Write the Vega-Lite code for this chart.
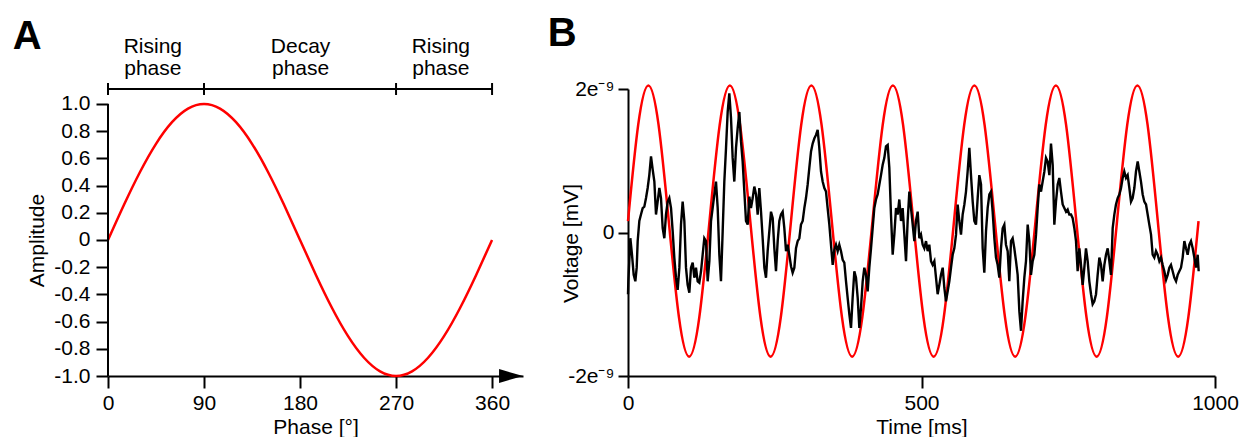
{
"$schema": "https://vega.github.io/schema/vega-lite/v6.json",
"padding": {"left": 12, "top": 13, "right": 5, "bottom": 0},
"background": "white",
"bounds": "flush",
"spacing": 105,
"config": {
  "view": {"stroke": null},
  "font": "Liberation Sans",
  "axis": {"domainColor": "black", "domainWidth": 2, "tickColor": "black", "tickWidth": 2, "tickSize": 12, "labelColor": "black", "titleColor": "black", "labelFontSize": 21, "titleFontSize": 21, "titleFontWeight": "normal", "grid": false, "labelPadding": 4, "titlePadding": 3, "labelFlush": false, "labelOverlap": false}
},
"datasets": {
  "phaseSine": [{"phase":0,"amp":0},{"phase":15,"amp":0.2588},{"phase":30,"amp":0.5},{"phase":45,"amp":0.7071},{"phase":60,"amp":0.866},{"phase":75,"amp":0.9659},{"phase":90,"amp":1},{"phase":105,"amp":0.9659},{"phase":120,"amp":0.866},{"phase":135,"amp":0.7071},{"phase":150,"amp":0.5},{"phase":165,"amp":0.2588},{"phase":180,"amp":0},{"phase":195,"amp":-0.2588},{"phase":210,"amp":-0.5},{"phase":225,"amp":-0.7071},{"phase":240,"amp":-0.866},{"phase":255,"amp":-0.9659},{"phase":270,"amp":-1},{"phase":285,"amp":-0.9659},{"phase":300,"amp":-0.866},{"phase":315,"amp":-0.7071},{"phase":330,"amp":-0.5},{"phase":345,"amp":-0.2588},{"phase":360,"amp":0}],
  "stimulus": [{"t":0,"v":0.16e-9},{"t":17.36,"v":1.5e-9},{"t":34.71,"v":2.05e-9},{"t":52.07,"v":1.5e-9},{"t":69.43,"v":0.16e-9},{"t":86.78,"v":-1.18e-9},{"t":104.14,"v":-1.73e-9},{"t":121.5,"v":-1.18e-9},{"t":138.85,"v":0.16e-9},{"t":156.2,"v":1.5e-9},{"t":173.56,"v":2.05e-9},{"t":190.92,"v":1.5e-9},{"t":208.27,"v":0.16e-9},{"t":225.63,"v":-1.18e-9},{"t":242.99,"v":-1.73e-9},{"t":260.34,"v":-1.18e-9},{"t":277.7,"v":0.16e-9},{"t":295.06,"v":1.5e-9},{"t":312.41,"v":2.05e-9},{"t":329.77,"v":1.5e-9},{"t":347.13,"v":0.16e-9},{"t":364.48,"v":-1.18e-9},{"t":381.84,"v":-1.73e-9},{"t":399.2,"v":-1.18e-9},{"t":416.55,"v":0.16e-9},{"t":433.91,"v":1.5e-9},{"t":451.26,"v":2.05e-9},{"t":468.62,"v":1.5e-9},{"t":485.98,"v":0.16e-9},{"t":503.33,"v":-1.18e-9},{"t":520.69,"v":-1.73e-9},{"t":538.05,"v":-1.18e-9},{"t":555.4,"v":0.16e-9},{"t":572.76,"v":1.5e-9},{"t":590.12,"v":2.05e-9},{"t":607.47,"v":1.5e-9},{"t":624.83,"v":0.16e-9},{"t":642.19,"v":-1.18e-9},{"t":659.54,"v":-1.73e-9},{"t":676.9,"v":-1.18e-9},{"t":694.26,"v":0.16e-9},{"t":711.61,"v":1.5e-9},{"t":728.97,"v":2.05e-9},{"t":746.33,"v":1.5e-9},{"t":763.68,"v":0.16e-9},{"t":781.04,"v":-1.18e-9},{"t":798.39,"v":-1.73e-9},{"t":815.75,"v":-1.18e-9},{"t":833.11,"v":0.16e-9},{"t":850.46,"v":1.5e-9},{"t":867.82,"v":2.05e-9},{"t":885.18,"v":1.5e-9},{"t":902.53,"v":0.16e-9},{"t":919.89,"v":-1.18e-9},{"t":937.25,"v":-1.73e-9},{"t":954.6,"v":-1.18e-9},{"t":971.96,"v":0.16e-9}],
  "recording": [
{"t":0,"v":-0.86e-9},{"t":0.6,"v":-0.68e-9},{"t":4.0,"v":-0.08e-9},{"t":6.8,"v":-0.31e-9},{"t":9.7,"v":-0.59e-9},{"t":12.5,"v":-0.68e-9},{"t":14.8,"v":-0.49e-9},{"t":16.5,"v":-0.12e-9},{"t":19.3,"v":0.16e-9},{"t":22.1,"v":0.25e-9},{"t":25.0,"v":0.34e-9},{"t":27.8,"v":0.36e-9},{"t":30.7,"v":0.48e-9},{"t":33.5,"v":0.62e-9},{"t":36.3,"v":0.80e-9},{"t":39.2,"v":1.06e-9},{"t":42.0,"v":0.88e-9},{"t":44.9,"v":0.71e-9},{"t":47.7,"v":0.25e-9},{"t":50.5,"v":0.43e-9},{"t":53.4,"v":0.62e-9},{"t":56.2,"v":0.48e-9},{"t":59.1,"v":0.06e-9},{"t":61.9,"v":-0.08e-9},{"t":64.7,"v":0.25e-9},{"t":67.6,"v":0.43e-9},{"t":70.4,"v":0.48e-9},{"t":73.3,"v":0.34e-9},{"t":76.1,"v":0.02e-9},{"t":78.9,"v":-0.35e-9},{"t":81.8,"v":-0.63e-9},{"t":84.6,"v":-0.80e-9},{"t":87.5,"v":-0.49e-9},{"t":90.3,"v":0.11e-9},{"t":93.1,"v":0.43e-9},{"t":96.0,"v":0.16e-9},{"t":98.8,"v":-0.49e-9},{"t":101.6,"v":-0.73e-9},{"t":104.5,"v":-0.84e-9},{"t":107.3,"v":-0.49e-9},{"t":110.2,"v":-0.42e-9},{"t":113.0,"v":-0.63e-9},{"t":115.8,"v":-0.49e-9},{"t":118.7,"v":-0.68e-9},{"t":121.5,"v":-0.70e-9},{"t":124.4,"v":-0.54e-9},{"t":127.2,"v":-0.31e-9},{"t":130.0,"v":-0.08e-9},{"t":132.9,"v":-0.12e-9},{"t":135.7,"v":-0.68e-9},{"t":138.6,"v":-0.40e-9},{"t":141.4,"v":0.16e-9},{"t":144.2,"v":0.34e-9},{"t":147.1,"v":0.53e-9},{"t":149.9,"v":0.71e-9},{"t":152.8,"v":0.34e-9},{"t":155.6,"v":-0.31e-9},{"t":158.4,"v":-0.68e-9},{"t":161.3,"v":0.02e-9},{"t":164.1,"v":0.71e-9},{"t":167.0,"v":1.18e-9},{"t":169.8,"v":1.68e-9},{"t":172.6,"v":1.94e-9},{"t":175.5,"v":1.59e-9},{"t":178.3,"v":1.04e-9},{"t":181.1,"v":0.71e-9},{"t":184.0,"v":1.18e-9},{"t":186.8,"v":1.45e-9},{"t":189.7,"v":1.68e-9},{"t":192.5,"v":1.27e-9},{"t":195.3,"v":0.99e-9},{"t":198.2,"v":0.57e-9},{"t":201.0,"v":0.16e-9},{"t":203.9,"v":0.11e-9},{"t":206.7,"v":0.50e-9},{"t":209.5,"v":0.34e-9},{"t":212.4,"v":0.48e-9},{"t":215.2,"v":0.64e-9},{"t":218.1,"v":0.53e-9},{"t":220.9,"v":0.25e-9},{"t":223.7,"v":0.62e-9},{"t":226.6,"v":0.29e-9},{"t":229.4,"v":-0.08e-9},{"t":232.3,"v":-0.49e-9},{"t":235.1,"v":-0.63e-9},{"t":237.9,"v":-0.26e-9},
{"t":243.6,"v":0.29e-9},{"t":246.5,"v":0.20e-9},{"t":249.3,"v":-0.22e-9},{"t":252.1,"v":-0.54e-9},{"t":255.0,"v":-0.12e-9},{"t":257.8,"v":0.16e-9},{"t":260.6,"v":0.25e-9},{"t":263.5,"v":0.29e-9},{"t":266.3,"v":0.06e-9},{"t":269.2,"v":-0.26e-9},{"t":272.0,"v":-0.17e-9},{"t":274.8,"v":-0.31e-9},{"t":277.7,"v":-0.47e-9},{"t":280.5,"v":-0.56e-9},{"t":283.4,"v":-0.49e-9},{"t":286.2,"v":-0.22e-9},{"t":289.0,"v":-0.12e-9},{"t":291.9,"v":-0.08e-9},{"t":294.7,"v":0.11e-9},{"t":297.6,"v":0.16e-9},{"t":300.4,"v":0.34e-9},{"t":303.2,"v":0.48e-9},{"t":306.1,"v":0.67e-9},{"t":308.9,"v":0.90e-9},{"t":311.8,"v":1.13e-9},{"t":314.6,"v":1.24e-9},{"t":317.4,"v":1.31e-9},{"t":320.3,"v":1.36e-9},{"t":323.1,"v":1.43e-9},{"t":325.9,"v":1.18e-9},{"t":328.8,"v":0.85e-9},{"t":331.6,"v":0.71e-9},{"t":334.5,"v":0.62e-9},{"t":337.3,"v":0.57e-9},{"t":340.1,"v":0.34e-9},{"t":343.0,"v":0.11e-9},{"t":345.8,"v":-0.17e-9},{"t":348.7,"v":-0.45e-9},{"t":351.5,"v":-0.24e-9},{"t":354.3,"v":-0.17e-9},{"t":357.2,"v":-0.26e-9},{"t":360.0,"v":-0.17e-9},{"t":362.9,"v":-0.26e-9},{"t":365.7,"v":-0.38e-9},{"t":368.5,"v":-0.42e-9},{"t":371.4,"v":-0.68e-9},{"t":374.2,"v":-0.91e-9},{"t":377.1,"v":-1.14e-9},{"t":379.9,"v":-1.33e-9},{"t":382.7,"v":-0.91e-9},{"t":385.6,"v":-0.54e-9},{"t":388.4,"v":-0.63e-9},{"t":391.3,"v":-0.91e-9},{"t":394.1,"v":-1.33e-9},{"t":396.9,"v":-1.05e-9},{"t":399.8,"v":-0.68e-9},{"t":402.6,"v":-0.49e-9},{"t":405.5,"v":-0.59e-9},{"t":408.3,"v":-0.82e-9},{"t":411.1,"v":-0.49e-9},{"t":414.0,"v":-0.22e-9},{"t":416.8,"v":0.06e-9},{"t":419.6,"v":0.34e-9},{"t":422.5,"v":0.46e-9},{"t":425.3,"v":0.53e-9},{"t":428.2,"v":0.67e-9},{"t":431.0,"v":0.80e-9},{"t":433.8,"v":0.94e-9},{"t":436.7,"v":1.04e-9},{"t":439.5,"v":1.20e-9},{"t":442.4,"v":1.22e-9},{"t":445.2,"v":0.90e-9},{"t":448.0,"v":0.25e-9},{"t":450.9,"v":-0.31e-9},{"t":453.7,"v":-0.03e-9},{"t":456.6,"v":0.34e-9},{"t":459.4,"v":0.25e-9},{"t":462.2,"v":0.46e-9},{"t":465.1,"v":0.16e-9},{"t":467.9,"v":0.34e-9},{"t":470.8,"v":-0.03e-9},{"t":473.6,"v":-0.40e-9},{"t":476.4,"v":0.16e-9},{"t":479.3,"v":0.57e-9},{"t":482.1,"v":0.34e-9},{"t":485.0,"v":0.11e-9},{"t":487.8,"v":-0.12e-9},{"t":490.6,"v":0.16e-9},{"t":493.5,"v":0.29e-9},{"t":496.3,"v":-0.08e-9},
{"t":499.1,"v":-0.03e-9},{"t":502.0,"v":-0.17e-9},{"t":504.8,"v":-0.22e-9},{"t":507.7,"v":-0.12e-9},{"t":510.5,"v":-0.26e-9},{"t":513.3,"v":-0.17e-9},{"t":516.2,"v":-0.40e-9},{"t":519.0,"v":-0.45e-9},{"t":521.9,"v":-0.40e-9},{"t":524.7,"v":-0.63e-9},{"t":527.5,"v":-0.86e-9},{"t":530.4,"v":-0.73e-9},{"t":533.2,"v":-0.59e-9},{"t":536.1,"v":-0.49e-9},{"t":538.9,"v":-0.77e-9},{"t":541.7,"v":-0.96e-9},{"t":544.6,"v":-0.82e-9},{"t":547.4,"v":-0.68e-9},{"t":550.3,"v":-0.49e-9},{"t":553.1,"v":-0.31e-9},{"t":555.9,"v":-0.22e-9},{"t":558.8,"v":-0.03e-9},{"t":561.6,"v":0.39e-9},{"t":564.4,"v":0.16e-9},{"t":567.3,"v":-0.03e-9},{"t":570.1,"v":0.25e-9},{"t":573.0,"v":0.39e-9},{"t":575.8,"v":0.57e-9},{"t":578.6,"v":0.85e-9},{"t":581.5,"v":1.18e-9},{"t":584.3,"v":0.80e-9},{"t":587.2,"v":0.43e-9},{"t":590.0,"v":0.16e-9},{"t":592.8,"v":0.11e-9},{"t":595.7,"v":0.48e-9},{"t":598.5,"v":0.80e-9},{"t":601.4,"v":0.67e-9},{"t":604.2,"v":-0.22e-9},{"t":607.0,"v":-0.56e-9},{"t":609.9,"v":0.02e-9},{"t":612.7,"v":0.34e-9},{"t":615.6,"v":0.53e-9},{"t":618.4,"v":0.57e-9},{"t":621.2,"v":0.29e-9},{"t":624.1,"v":-0.08e-9},{"t":626.9,"v":-0.35e-9},{"t":629.7,"v":-0.45e-9},{"t":632.6,"v":-0.63e-9},{"t":635.4,"v":-0.22e-9},{"t":638.3,"v":0.06e-9},{"t":641.1,"v":0.11e-9},{"t":643.9,"v":-0.17e-9},{"t":646.8,"v":-0.26e-9},{"t":649.6,"v":-0.68e-9},{"t":652.5,"v":-0.12e-9},{"t":655.3,"v":-0.08e-9},{"t":658.1,"v":-0.22e-9},{"t":661.0,"v":-0.40e-9},{"t":663.8,"v":-0.59e-9},{"t":666.7,"v":-1.10e-9},{"t":669.5,"v":-1.37e-9},{"t":672.3,"v":-0.96e-9},{"t":675.2,"v":-0.63e-9},{"t":678.0,"v":-0.40e-9},{"t":680.9,"v":0.11e-9},{"t":683.7,"v":-0.12e-9},{"t":686.5,"v":-0.59e-9},{"t":689.4,"v":-0.40e-9},{"t":692.2,"v":-0.31e-9},{"t":695.1,"v":-0.03e-9},{"t":697.9,"v":0.34e-9},{"t":700.7,"v":0.67e-9},{"t":703.6,"v":0.57e-9},{"t":706.4,"v":0.71e-9},{"t":709.3,"v":0.85e-9},{"t":712.1,"v":1.04e-9},{"t":714.9,"v":0.99e-9},{"t":717.8,"v":0.80e-9},{"t":720.6,"v":1.24e-9},{"t":723.5,"v":0.94e-9},{"t":726.3,"v":0.11e-9},{"t":729.1,"v":0.43e-9},{"t":732.0,"v":0.67e-9},{"t":734.8,"v":0.76e-9},{"t":737.6,"v":0.57e-9},{"t":740.5,"v":0.39e-9},{"t":743.3,"v":0.34e-9},{"t":746.2,"v":0.29e-9},{"t":749.0,"v":0.32e-9},{"t":751.8,"v":0.25e-9},
{"t":754.7,"v":0.25e-9},{"t":757.5,"v":0.20e-9},{"t":760.4,"v":0.06e-9},{"t":763.2,"v":-0.12e-9},{"t":766.0,"v":-0.54e-9},{"t":768.9,"v":-0.22e-9},{"t":771.7,"v":-0.45e-9},{"t":774.6,"v":-0.73e-9},{"t":777.4,"v":-0.49e-9},{"t":780.2,"v":-0.22e-9},{"t":783.1,"v":-0.40e-9},{"t":785.9,"v":-0.68e-9},{"t":788.8,"v":-0.86e-9},{"t":791.6,"v":-1.00e-9},{"t":794.4,"v":-0.96e-9},{"t":797.3,"v":-0.86e-9},{"t":800.1,"v":-0.59e-9},{"t":803.0,"v":-0.35e-9},{"t":805.8,"v":-0.45e-9},{"t":808.6,"v":-0.68e-9},{"t":811.5,"v":-0.45e-9},{"t":814.3,"v":-0.31e-9},{"t":817.2,"v":-0.22e-9},{"t":820.0,"v":-0.40e-9},{"t":822.8,"v":-0.59e-9},{"t":825.7,"v":0.06e-9},{"t":828.5,"v":0.25e-9},{"t":831.3,"v":0.39e-9},{"t":834.2,"v":0.48e-9},{"t":837.0,"v":0.53e-9},{"t":839.9,"v":0.62e-9},{"t":842.7,"v":0.76e-9},{"t":845.5,"v":0.85e-9},{"t":848.4,"v":0.76e-9},{"t":851.2,"v":0.80e-9},{"t":854.1,"v":0.62e-9},{"t":856.9,"v":0.43e-9},{"t":859.7,"v":0.48e-9},{"t":862.6,"v":0.62e-9},{"t":865.4,"v":0.85e-9},{"t":868.3,"v":0.99e-9},{"t":871.1,"v":0.85e-9},{"t":873.9,"v":0.71e-9},{"t":876.8,"v":0.53e-9},{"t":879.6,"v":0.43e-9},{"t":882.5,"v":0.39e-9},{"t":885.3,"v":0.25e-9},{"t":888.1,"v":0.11e-9},{"t":891.0,"v":-0.03e-9},{"t":893.8,"v":-0.31e-9},{"t":896.6,"v":-0.35e-9},{"t":899.5,"v":-0.26e-9},{"t":902.3,"v":-0.31e-9},{"t":905.2,"v":-0.40e-9},{"t":908.0,"v":-0.35e-9},{"t":910.8,"v":-0.45e-9},{"t":913.7,"v":-0.54e-9},{"t":916.6,"v":-0.66e-9},{"t":919.4,"v":-0.59e-9},{"t":922.2,"v":-0.49e-9},{"t":925.0,"v":-0.45e-9},{"t":927.9,"v":-0.54e-9},{"t":930.7,"v":-0.63e-9},{"t":933.6,"v":-0.68e-9},{"t":936.4,"v":-0.59e-9},{"t":939.2,"v":-0.54e-9},{"t":942.1,"v":-0.49e-9},{"t":944.9,"v":-0.35e-9},{"t":947.8,"v":-0.12e-9},{"t":950.6,"v":-0.22e-9},{"t":953.4,"v":-0.31e-9},{"t":956.3,"v":-0.17e-9},{"t":959.1,"v":-0.12e-9},{"t":962.0,"v":-0.22e-9},{"t":964.8,"v":-0.35e-9},{"t":967.6,"v":-0.49e-9},{"t":970.5,"v":-0.31e-9},{"t":972.2,"v":-0.54e-9}
  ],
  "phaseBrackets": [{"phase":0},{"phase":90},{"phase":270},{"phase":360}],
  "phaseLabels": [{"label":"Rising\nphase","phase":42},{"label":"Decay\nphase","phase":180.5},{"label":"Rising\nphase","phase":312}]
},
"hconcat": [
  {
    "width": 415,
    "height": 287,
    "layer": [
      {
        "data": {"name": "phaseSine"},
        "mark": {"type": "line", "color": "#ff0000", "strokeWidth": 2.5, "interpolate": "natural"},
        "encoding": {
          "x": {"field": "phase", "type": "quantitative", "scale": {"domain": [0, 389], "nice": false}, "axis": {"values": [0, 90, 180, 270, 360], "tickCount": 20, "format": "d", "title": "Phase [°]"}},
          "y": {"field": "amp", "type": "quantitative", "scale": {"domain": [-1, 1.11], "nice": false, "zero": false}, "axis": {"values": [-1, -0.8, -0.6, -0.4, -0.2, 0, 0.2, 0.4, 0.6, 0.8, 1], "tickCount": 30, "domain": false, "labelPadding": 6, "labelExpr": "datum.value == 0 ? '0' : (datum.value < 0 ? '-' : '') + format(abs(datum.value), '.1f')", "title": "Amplitude", "titleX": -71, "titleY": 151, "titleBaseline": "middle"}}
        }
      },
      {
        "data": {"values": [{}]},
        "mark": {"type": "rule", "color": "black", "strokeWidth": 2},
        "encoding": {"x": {"datum": 0, "type": "quantitative"}, "y": {"datum": -1, "type": "quantitative"}, "y2": {"datum": 1}}
      },
      {
        "data": {"values": [{}]},
        "mark": {"type": "rule", "color": "black", "strokeWidth": 2},
        "encoding": {"x": {"datum": 0, "type": "quantitative"}, "x2": {"datum": 360}, "y": {"datum": 1.11, "type": "quantitative"}}
      },
      {
        "data": {"name": "phaseBrackets"},
        "mark": {"type": "rule", "color": "black", "strokeWidth": 2},
        "encoding": {"x": {"field": "phase", "type": "quantitative"}, "y": {"datum": 1.066, "type": "quantitative"}, "y2": {"datum": 1.154}}
      },
      {
        "data": {"name": "phaseLabels"},
        "mark": {"type": "text", "fontSize": 21, "lineBreak": "\n", "lineHeight": 22, "align": "center", "baseline": "alphabetic", "color": "black"},
        "encoding": {"x": {"field": "phase", "type": "quantitative"}, "y": {"datum": 1.377, "type": "quantitative"}, "text": {"field": "label"}}
      },
      {
        "data": {"values": [{}]},
        "mark": {"type": "point", "shape": "M-1,-0.58L1,0L-1,0.58Z", "size": 576, "filled": true, "color": "black", "opacity": 1, "strokeWidth": 0},
        "encoding": {"x": {"datum": 377.8, "type": "quantitative"}, "y": {"datum": -1, "type": "quantitative"}}
      },
      {
        "data": {"values": [{}]},
        "mark": {"type": "text", "text": "A", "fontSize": 40, "fontWeight": "bold", "align": "left", "baseline": "alphabetic", "color": "black"},
        "encoding": {"x": {"datum": -89.3, "type": "quantitative"}, "y": {"datum": 1.402, "type": "quantitative"}}
      }
    ]
  },
  {
    "width": 587,
    "height": 287,
    "layer": [
      {
        "data": {"name": "stimulus"},
        "mark": {"type": "line", "color": "#ff0000", "strokeWidth": 2.5, "interpolate": "natural"},
        "encoding": {
          "x": {"field": "t", "type": "quantitative", "scale": {"domain": [0, 1000], "nice": false}, "axis": {"values": [0, 500, 1000], "tickCount": 20, "format": "d", "title": "Time [ms]"}},
          "y": {"field": "v", "type": "quantitative", "scale": {"domain": [-2e-9, 2e-9], "nice": false, "zero": false}, "axis": {"values": [-2e-9, 0, 2e-9], "tickCount": 20, "tickSize": 10, "labelPadding": 4, "labelExpr": "datum.value > 1e-10 ? '2e⁻⁹' : (datum.value < -1e-10 ? '-2e⁻⁹' : '0')", "title": "Voltage [mV]", "titleX": -56.5, "titleY": 154, "titleBaseline": "middle"}}
        }
      },
      {
        "data": {"name": "recording"},
        "mark": {"type": "line", "color": "black", "strokeWidth": 2.4},
        "encoding": {"x": {"field": "t", "type": "quantitative"}, "y": {"field": "v", "type": "quantitative"}}
      },
      {
        "data": {"values": [{}]},
        "mark": {"type": "text", "text": "B", "fontSize": 40, "fontWeight": "bold", "align": "left", "baseline": "alphabetic", "color": "black"},
        "encoding": {"x": {"datum": -136.8, "type": "quantitative"}, "y": {"datum": 2.6e-9, "type": "quantitative"}}
      }
    ]
  }
]
}
